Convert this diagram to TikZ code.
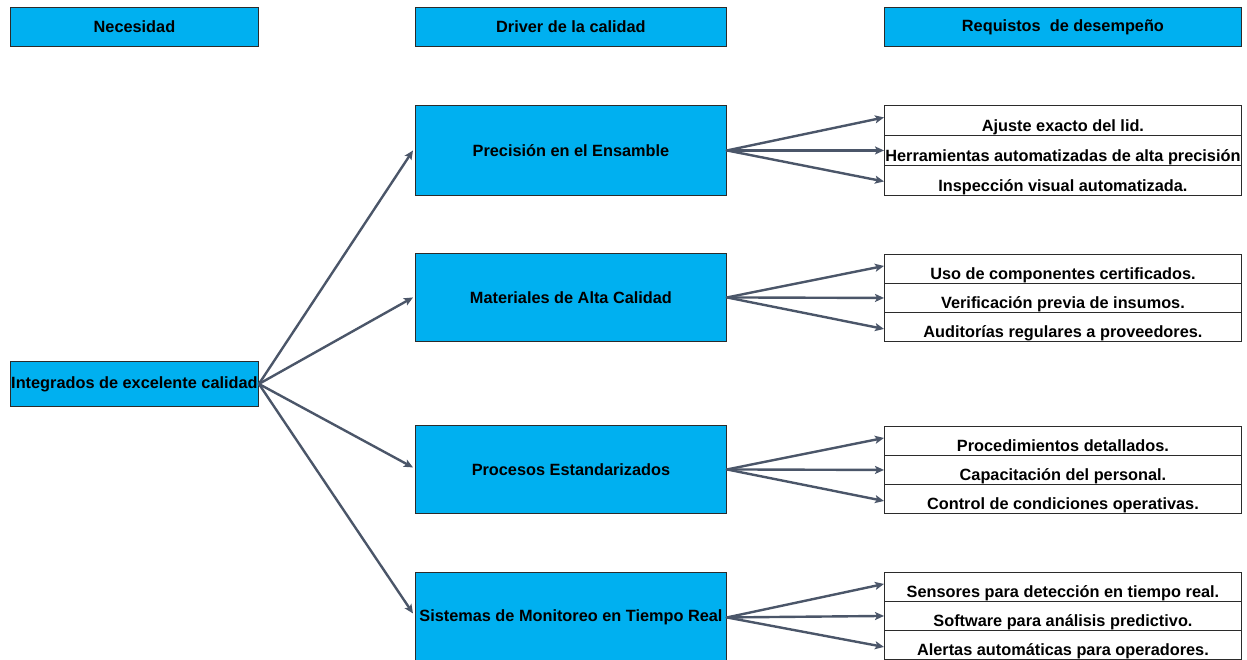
\documentclass[tikz,border=0pt]{standalone}
\usepackage{fontspec}
\setmainfont{Liberation Sans}
\usetikzlibrary{arrows.meta}
\definecolor{boxblue}{HTML}{00B0F0}
\definecolor{linkgray}{HTML}{4B5669}
\definecolor{edgegray}{HTML}{2B2B2B}

\begin{document}
\begin{tikzpicture}[x=1pt,y=-1pt,
  font=\fontsize{16.3}{19}\selectfont\bfseries,
  bluebox/.style={draw=edgegray, line width=0.9pt, fill=boxblue, inner sep=0pt,
    anchor=north west, align=center},
  reqrow/.style={draw=edgegray, line width=0.9pt, fill=white, inner sep=0pt,
    anchor=north west, minimum width=357pt, minimum height=#1,
    text height=25pt, text depth=3pt},
  link/.style={draw=linkgray, line width=2.4pt, line cap=round,
    -{Stealth[length=9pt,width=8pt,inset=2pt]}},
]
\useasboundingbox (0,0) rectangle (1247,660);
\clip (0,0) rectangle (1247,660);

% column headers
\node[bluebox, minimum width=248pt, minimum height=39pt] (hneed) at (10,7) {Necesidad};
\node[bluebox, minimum width=311pt, minimum height=39pt] (hdrv) at (415,7) {Driver de la calidad};
\node[bluebox, minimum width=357pt, minimum height=39pt] (hreq) at (884,7) {Requistos\ \ de desempeño};

% need
\node[bluebox, minimum width=248pt, minimum height=45pt] (need) at (10,361) {Integrados de excelente calidad};

% quality drivers
\node[bluebox, minimum width=311pt, minimum height=90pt] (d1) at (415,105) {Precisión en el Ensamble};
\node[bluebox, minimum width=311pt, minimum height=88pt] (d2) at (415,253) {Materiales de Alta Calidad};
\node[bluebox, minimum width=311pt, minimum height=88pt] (d3) at (415,425) {Procesos Estandarizados};
\node[bluebox, minimum width=311pt, minimum height=90pt] (d4) at (415,572) {Sistemas de Monitoreo en Tiempo Real};

% performance requirements
\node[reqrow=30pt] (r11) at (884,105) {Ajuste exacto del lid.};
\node[reqrow=30pt] (r12) at (884,135) {Herramientas automatizadas de alta precisión};
\node[reqrow=30pt] (r13) at (884,165) {Inspección visual automatizada.};

\node[reqrow=29pt] (r21) at (884,254) {Uso de componentes certificados.};
\node[reqrow=29pt] (r22) at (884,283) {Verificación previa de insumos.};
\node[reqrow=29pt] (r23) at (884,312) {Auditorías regulares a proveedores.};

\node[reqrow=29pt] (r31) at (884,426) {Procedimientos detallados.};
\node[reqrow=29pt] (r32) at (884,455) {Capacitación del personal.};
\node[reqrow=29pt] (r33) at (884,484) {Control de condiciones operativas.};

\node[reqrow=29pt] (r41) at (884,572) {Sensores para detección en tiempo real.};
\node[reqrow=29pt] (r42) at (884,601) {Software para análisis predictivo.};
\node[reqrow=29pt] (r43) at (884,630) {Alertas automáticas para operadores.};

% need -> drivers
\draw[link] (need.east) -- ([xshift=-2pt]d1.west);
\draw[link] (need.east) -- ([xshift=-2pt]d2.west);
\draw[link] (need.east) -- ([xshift=-2pt,yshift=2pt]d3.west);
\draw[link] (need.east) -- ([xshift=-2pt,yshift=4pt]d4.west);

% drivers -> requirements
\draw[link] (d1.east) -- ([yshift=3pt]r11.west);
\draw[link] (d1.east) -- (r12.west);
\draw[link] (d1.east) -- ([yshift=-1pt]r13.west);

\draw[link] (d2.east) -- ([yshift=3pt]r21.west);
\draw[link] (d2.east) -- (r22.west);
\draw[link] (d2.east) -- ([yshift=-2pt]r23.west);

\draw[link] (d3.east) -- ([yshift=3pt]r31.west);
\draw[link] (d3.east) -- (r32.west);
\draw[link] (d3.east) -- ([yshift=-2pt]r33.west);

\draw[link] (d4.east) -- ([yshift=3pt]r41.west);
\draw[link] (d4.east) -- (r42.west);
\draw[link] (d4.east) -- ([yshift=-2pt]r43.west);
\end{tikzpicture}
\end{document}
